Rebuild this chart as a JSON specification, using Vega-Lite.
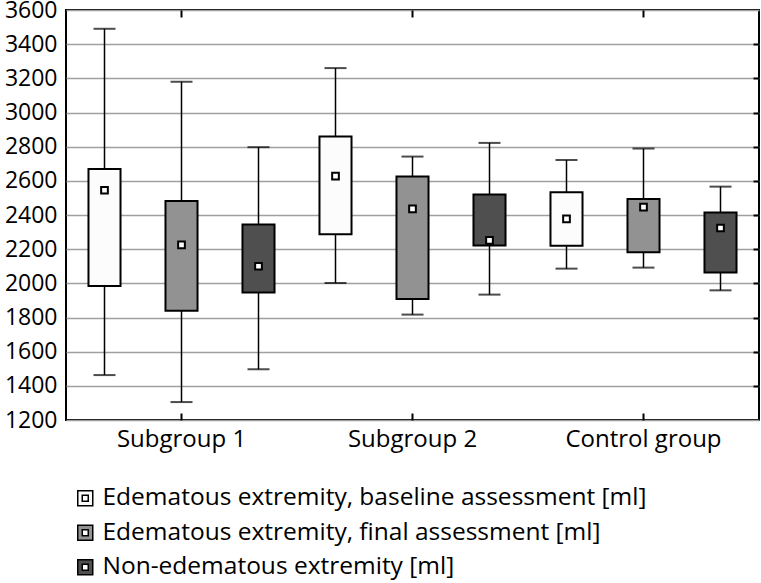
{
  "$schema": "https://vega.github.io/schema/vega-lite/v6.json",
  "width": 693,
  "height": 410,
  "autosize": {"type": "none"},
  "padding": {"left": 66, "top": 10, "right": 2, "bottom": 163},
  "background": "white",
  "config": {
    "view": {"stroke": "black", "strokeWidth": 2},
    "font": "Open Sans",
    "axis": {
      "labelColor": "black",
      "labelFont": "Open Sans",
      "labelFontSize": 24,
      "tickColor": "black",
      "tickWidth": 2,
      "gridColor": "#a0a0a0",
      "gridWidth": 1.5,
      "gridOpacity": 1,
      "domain": false,
      "title": null
    },
    "legend": {
      "labelFont": "Open Sans",
      "labelFontSize": 24.5,
      "labelColor": "black",
      "labelLimit": 700
    }
  },
  "data": {
    "values": [
      {"group": "Subgroup 1", "series": "Edematous extremity, baseline assessment [ml]", "min": 1463, "q1": 1985, "q3": 2670, "max": 3490, "mid": 2545},
      {"group": "Subgroup 1", "series": "Edematous extremity, final assessment [ml]", "min": 1305, "q1": 1840, "q3": 2482, "max": 3180, "mid": 2225},
      {"group": "Subgroup 1", "series": "Non-edematous extremity [ml]", "min": 1497, "q1": 1947, "q3": 2345, "max": 2797, "mid": 2100},
      {"group": "Subgroup 2", "series": "Edematous extremity, baseline assessment [ml]", "min": 2002, "q1": 2287, "q3": 2860, "max": 3260, "mid": 2628},
      {"group": "Subgroup 2", "series": "Edematous extremity, final assessment [ml]", "min": 1817, "q1": 1908, "q3": 2625, "max": 2742, "mid": 2436},
      {"group": "Subgroup 2", "series": "Non-edematous extremity [ml]", "min": 1934, "q1": 2222, "q3": 2520, "max": 2822, "mid": 2252},
      {"group": "Control group", "series": "Edematous extremity, baseline assessment [ml]", "min": 2086, "q1": 2220, "q3": 2533, "max": 2722, "mid": 2377},
      {"group": "Control group", "series": "Edematous extremity, final assessment [ml]", "min": 2092, "q1": 2182, "q3": 2494, "max": 2789, "mid": 2446},
      {"group": "Control group", "series": "Non-edematous extremity [ml]", "min": 1959, "q1": 2063, "q3": 2414, "max": 2566, "mid": 2324}
    ]
  },
  "resolve": {"axis": {"x": "independent", "y": "independent"}},
  "layer": [
    {
      "mark": {"type": "rule", "color": "black", "strokeWidth": 1.5},
      "encoding": {
        "x": {"field": "group", "type": "nominal", "sort": ["Subgroup 1", "Subgroup 2", "Control group"],
              "scale": {"paddingInner": 0, "paddingOuter": 0},
              "axis": {"orient": "bottom", "labelAngle": 0, "ticks": true, "tickSize": -7, "labelPadding": 14}},
        "xOffset": {"field": "series", "type": "nominal",
                    "sort": ["Edematous extremity, baseline assessment [ml]", "Edematous extremity, final assessment [ml]", "Non-edematous extremity [ml]"],
                    "scale": {"paddingInner": 0.584, "paddingOuter": 0.292}},
        "y": {"field": "min", "type": "quantitative",
              "scale": {"domain": [1200, 3600], "nice": false, "zero": false},
              "axis": {"orient": "left", "grid": true, "ticks": false, "labelPadding": 9, "labelFontSize": 23, "format": "d",
                       "labelOverlap": false,
                       "values": [1200, 1400, 1600, 1800, 2000, 2200, 2400, 2600, 2800, 3000, 3200, 3400, 3600]}},
        "y2": {"field": "max"}
      }
    },
    {
      "mark": {"type": "tick", "color": "black", "thickness": 2, "size": 22, "orient": "horizontal"},
      "encoding": {
        "x": {"field": "group", "type": "nominal", "sort": ["Subgroup 1", "Subgroup 2", "Control group"],
              "axis": {"orient": "top", "labels": false, "ticks": true, "tickSize": -7}},
        "xOffset": {"field": "series", "type": "nominal",
                    "sort": ["Edematous extremity, baseline assessment [ml]", "Edematous extremity, final assessment [ml]", "Non-edematous extremity [ml]"]},
        "y": {"field": "max", "type": "quantitative",
              "axis": {"orient": "right", "labels": false, "ticks": true, "tickSize": -6, "grid": false,
                       "values": [1400, 1600, 1800, 2000, 2200, 2400, 2600, 2800, 3000, 3200, 3400]}}
      }
    },
    {
      "mark": {"type": "tick", "color": "black", "thickness": 2, "size": 22, "orient": "horizontal"},
      "encoding": {
        "x": {"field": "group", "type": "nominal", "sort": ["Subgroup 1", "Subgroup 2", "Control group"], "axis": null},
        "xOffset": {"field": "series", "type": "nominal",
                    "sort": ["Edematous extremity, baseline assessment [ml]", "Edematous extremity, final assessment [ml]", "Non-edematous extremity [ml]"]},
        "y": {"field": "min", "type": "quantitative", "axis": null}
      }
    },
    {
      "mark": {"type": "bar", "stroke": "black", "strokeWidth": 2},
      "encoding": {
        "x": {"field": "group", "type": "nominal", "sort": ["Subgroup 1", "Subgroup 2", "Control group"], "axis": null},
        "xOffset": {"field": "series", "type": "nominal",
                    "sort": ["Edematous extremity, baseline assessment [ml]", "Edematous extremity, final assessment [ml]", "Non-edematous extremity [ml]"]},
        "y": {"field": "q1", "type": "quantitative", "axis": null},
        "y2": {"field": "q3"},
        "color": {"field": "series", "type": "nominal",
                  "sort": ["Edematous extremity, baseline assessment [ml]", "Edematous extremity, final assessment [ml]", "Non-edematous extremity [ml]"],
                  "scale": {"domain": ["Edematous extremity, baseline assessment [ml]", "Edematous extremity, final assessment [ml]", "Non-edematous extremity [ml]"],
                            "range": ["#fcfcfc", "#929292", "#4f4f4f"]},
                  "legend": {"title": null, "orient": "none", "direction": "vertical", "legendX": 7, "legendY": 476,
                             "padding": 0, "rowPadding": 9.5, "labelOffset": 5,
                             "symbolType": "M-1,-1H1V1H-1Z M-0.4,-0.4V0.4H0.4V-0.4Z",
                             "symbolSize": 225, "symbolStrokeColor": "black", "symbolStrokeWidth": 1.5, "symbolOpacity": 1}}
      }
    },
    {
      "mark": {"type": "point", "shape": "square", "filled": true, "fill": "white", "stroke": "black", "strokeWidth": 2, "size": 45, "opacity": 1},
      "encoding": {
        "x": {"field": "group", "type": "nominal", "sort": ["Subgroup 1", "Subgroup 2", "Control group"], "axis": null},
        "xOffset": {"field": "series", "type": "nominal",
                    "sort": ["Edematous extremity, baseline assessment [ml]", "Edematous extremity, final assessment [ml]", "Non-edematous extremity [ml]"]},
        "y": {"field": "mid", "type": "quantitative", "axis": null}
      }
    }
  ]
}
